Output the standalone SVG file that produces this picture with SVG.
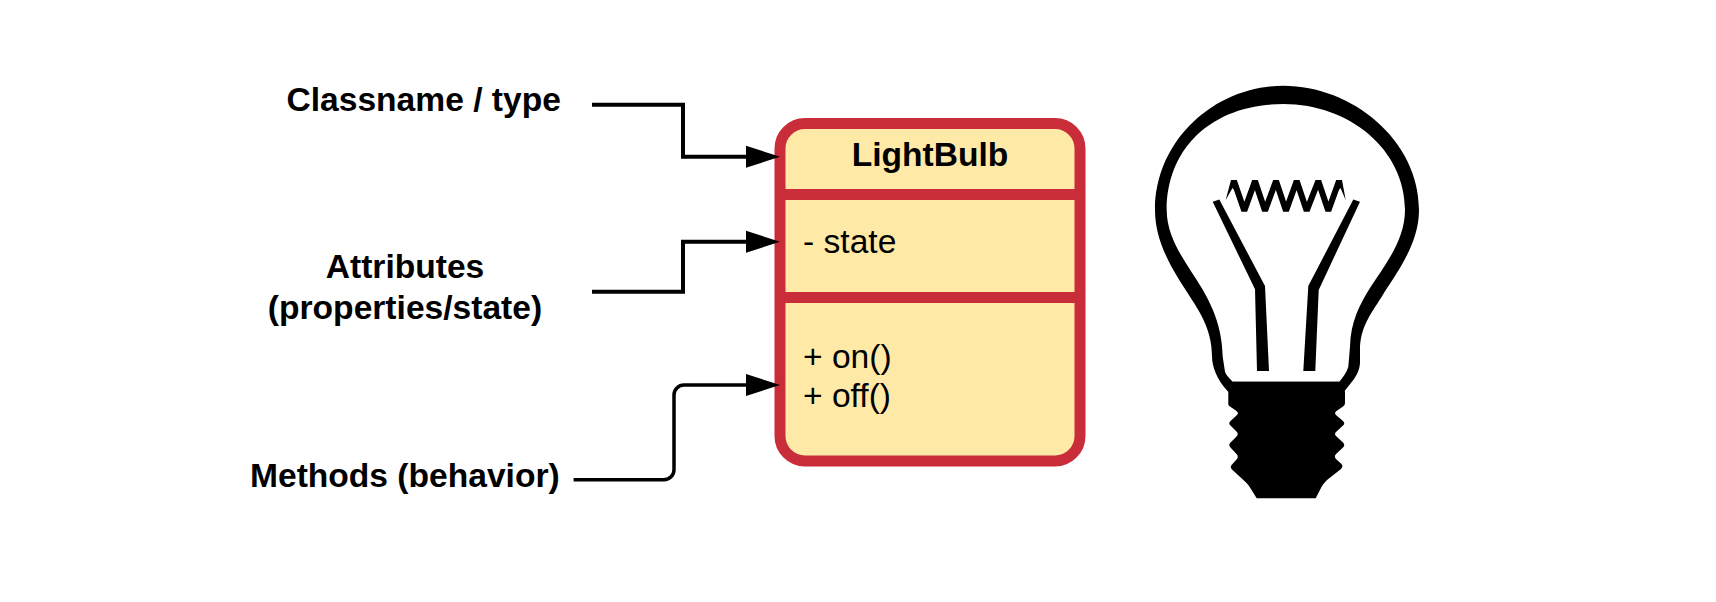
<svg xmlns="http://www.w3.org/2000/svg" width="1716" height="602" viewBox="0 0 1716 602">
<style>
text{font-family:"Liberation Sans",Arial,sans-serif;font-size:33.6px;fill:#000}
.b{font-weight:bold}
.m{text-anchor:middle}
.c{fill:none;stroke:#000;stroke-width:4;marker-end:url(#arr)}
.sep{stroke:#c92d39;stroke-width:11}
</style>
<defs>
<marker id="arr" markerUnits="userSpaceOnUse" markerWidth="34" markerHeight="22" refX="0" refY="11" orient="auto" overflow="visible">
<path d="M0 0L34 11L0 22Z" fill="#000"/>
</marker>
</defs>
<rect width="1716" height="602" fill="#fff"/>
<g id="label-classname"><text class="b" x="286.5" y="111">Classname / type</text></g>
<g id="label-attributes"><text class="b m" x="405" y="278">Attributes</text><text class="b m" x="405" y="318.5">(properties/state)</text></g>
<g id="label-methods"><text class="b" x="250" y="487">Methods (behavior)</text></g>
<g id="class-lightbulb">
<rect x="780" y="123.5" width="300" height="337.5" rx="25" ry="25" fill="#ffe9a6" stroke="#c92d39" stroke-width="11"/>
<line class="sep" x1="780" y1="194.5" x2="1080" y2="194.5"/>
<line class="sep" x1="780" y1="297.5" x2="1080" y2="297.5"/>
<text class="b m" x="930" y="166">LightBulb</text>
<text x="803" y="253">- state</text>
<text x="803" y="367.5">+ on()</text>
<text x="803" y="407">+ off()</text>
</g>
<g id="bulb">
<path fill="#000" fill-rule="evenodd" d="M1283.3 85.7C1352 85.7 1419 140 1419 210C1419 245 1395 275 1381.7 296.7C1370 315 1360 328 1360 350L1360 363C1359.5 371 1356 376 1353.3 380L1344 391.7L1228 391.7L1227.3 390.7C1217 380 1212 366 1212 356.7C1212 332 1202 315 1190 296.7C1176 275 1155 245 1155 210C1155 140 1215 85.7 1283.3 85.7ZM1283.3 104C1350 104 1405 150 1405 210C1405 240 1385 265 1370 288C1360 304 1350.5 322 1350 346.7L1348.3 366.7C1347 372 1343 377 1339.3 381.7L1232.7 381.7C1229 378 1226 375 1225 371.7L1222.7 356.7C1222 325 1211 304 1201.7 288C1188 265 1166.7 240 1166.7 210C1166.7 148 1212 104 1283.3 104Z"/>
<path fill="#000" d="M1232.7 381.7L1339.3 381.7L1345 391.7L1345 403Q1345 405.5 1343 406.5L1336.5 411Q1333.5 413.3 1336.5 415.5L1343 421Q1345.5 423.3 1343 425.6L1336.5 431.5Q1333.5 434 1336.5 436.5L1343 442.5Q1345.5 445 1343 447.5L1336.5 453.5Q1333.5 456 1336 459L1341.5 464Q1343.5 466.7 1341 469L1327 480Q1323.5 483.5 1321.5 487L1315.7 498.3L1256.7 498.3L1250 487.5Q1248 484 1245 481.5L1232 469.5Q1229.5 467 1232 464.5L1236.5 459.5Q1239 456.7 1236.5 454L1230.5 447.5Q1228 445 1230.5 442.5L1236.5 436.5Q1239 434 1236.5 431.5L1230.5 425.6Q1228 423.3 1230.5 421L1236.5 415.5Q1239.5 413.3 1236.5 411L1230 406.5Q1228 405.5 1228.3 403L1228.3 391.7Z"/>
<polygon points="1212.7,201.7 1219.3,199.5 1265,286 1269,371 1257,371 1255,289.3"/>
<polygon points="1353.3,199.5 1360,201.7 1318.7,290 1315.3,371 1303.3,371 1308.3,286"/>
<polyline fill="none" stroke="#000" stroke-width="6" stroke-linejoin="bevel" points="1234,181 1244.3,210.7 1255,181 1265,210.7 1276,181 1286,210.7 1296.7,181 1306.7,210.7 1318.3,181 1328.3,210.7 1339,181"/>
<polygon points="1225.7,200 1231,180 1237,180 1237,193 1232.5,188"/>
<polygon points="1345.7,200 1342,180 1336,180 1336,193 1340.5,188"/>
</g>
<g id="connectors">
<path class="c" d="M592 104.7H683V156.7H746"/>
<path class="c" d="M592 291.7H683V241.7H746"/>
<path class="c" style="stroke-width:3.5" d="M573.6 479.7H664A10 10 0 0 0 674 469.7V395A10 10 0 0 1 684 385H746"/>
</g>
</svg>
